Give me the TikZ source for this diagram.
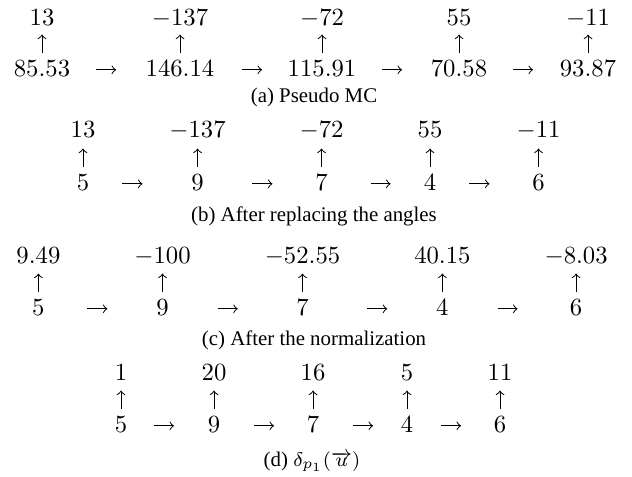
\documentclass[tikz,border=0pt]{standalone}
\usepackage{fontspec}
\newfontfamily\capfont{Liberation Serif}
\usetikzlibrary{calc}
\tikzset{
  num/.style={inner sep=0pt, outer sep=0pt, anchor=base, font=\fontsize{10}{12}\selectfont},
  captext/.style={inner sep=0pt, outer sep=0pt, anchor=base, font=\capfont\fontsize{8.45}{10}\selectfont},
  uarrow/.style={->, line width=0.4pt},
  rarrow/.style={->, line width=0.4pt},
}
\newcommand\uparr[1]{\draw[uarrow] ($(#1.north)+(0,-7)$) -- ++(0,-18.5);}
\newcommand\rarr[3]{\draw[rarrow] ($(#1.base)!#3!(#2.base)+(-10,-6.2)$) -- ++(20,0);}
\begin{document}
\begin{tikzpicture}[x=0.405pt, y=-0.405pt]
\useasboundingbox (0,0) rectangle (632,476);
% (a)
\node[num] (a1t) at (42,25) {$13$};
\node[num] (a2t) at (180,25) {$-137$};
\node[num] (a3t) at (322,25) {$-72$};
\node[num] (a4t) at (459,25) {$55$};
\node[num] (a5t) at (588,25) {$-11$};
\node[num] (a1) at (42,76) {$85.53$};
\node[num] (a2) at (180,76) {$146.14$};
\node[num] (a3) at (322,76) {$115.91$};
\node[num] (a4) at (459,76) {$70.58$};
\node[num] (a5) at (588,76) {$93.87$};
\foreach \i in {1,...,5} {\uparr{a\i}}
\rarr{a1}{a2}{0.464}
\rarr{a2}{a3}{0.507}
\rarr{a3}{a4}{0.511}
\rarr{a4}{a5}{0.496}
\node[captext] (capa) at (314,102) {(a) Pseudo MC};
% (b)
\node[num] (b1t) at (83,137) {$13$};
\node[num] (b2t) at (197.5,137) {$-137$};
\node[num] (b3t) at (321.5,137) {$-72$};
\node[num] (b4t) at (430,137) {$55$};
\node[num] (b5t) at (538.5,137) {$-11$};
\node[num] (b1) at (83,190) {$5$};
\node[num] (b2) at (197.5,190) {$9$};
\node[num] (b3) at (321.5,190) {$7$};
\node[num] (b4) at (430,190) {$4$};
\node[num] (b5) at (538.5,190) {$6$};
\foreach \i in {1,...,5} {\uparr{b\i}}
\rarr{b1}{b2}{0.432}
\rarr{b2}{b3}{0.524}
\rarr{b3}{b4}{0.544}
\rarr{b4}{b5}{0.456}
\node[captext] (capb) at (314,221) {(b) After replacing the angles};
% (c)
\node[num] (c1t) at (38.4,263) {$9.49$};
\node[num] (c2t) at (162.5,263) {$-100$};
\node[num] (c3t) at (302.5,263) {$-52.55$};
\node[num] (c4t) at (442.4,263) {$40.15$};
\node[num] (c5t) at (576.1,263) {$-8.03$};
\node[num] (c1) at (38.4,315) {$5$};
\node[num] (c2) at (162.5,315) {$9$};
\node[num] (c3) at (302.5,315) {$7$};
\node[num] (c4) at (442.4,315) {$4$};
\node[num] (c5) at (576.1,315) {$6$};
\foreach \i in {1,...,5} {\uparr{c\i}}
\rarr{c1}{c2}{0.475}
\rarr{c2}{c3}{0.466}
\rarr{c3}{c4}{0.534}
\rarr{c4}{c5}{0.487}
\node[captext] (capc) at (314,345) {(c) After the normalization};
% (d)
\node[num] (d1t) at (121,380) {$1$};
\node[num] (d2t) at (214,380) {$20$};
\node[num] (d3t) at (313,380) {$16$};
\node[num] (d4t) at (407,380) {$5$};
\node[num] (d5t) at (500,380) {$11$};
\node[num] (d1) at (121,432) {$5$};
\node[num] (d2) at (214,432) {$9$};
\node[num] (d3) at (313,432) {$7$};
\node[num] (d4) at (407,432) {$4$};
\node[num] (d5) at (500,432) {$6$};
\foreach \i in {1,...,5} {\uparr{d\i}}
\rarr{d1}{d2}{0.462}
\rarr{d2}{d3}{0.505}
\rarr{d3}{d4}{0.532}
\rarr{d4}{d5}{0.473}
\node[captext] (capd) at (312,466) {(d) $\delta_{p_1}(\overrightarrow{u})$};
\end{tikzpicture}
\end{document}
